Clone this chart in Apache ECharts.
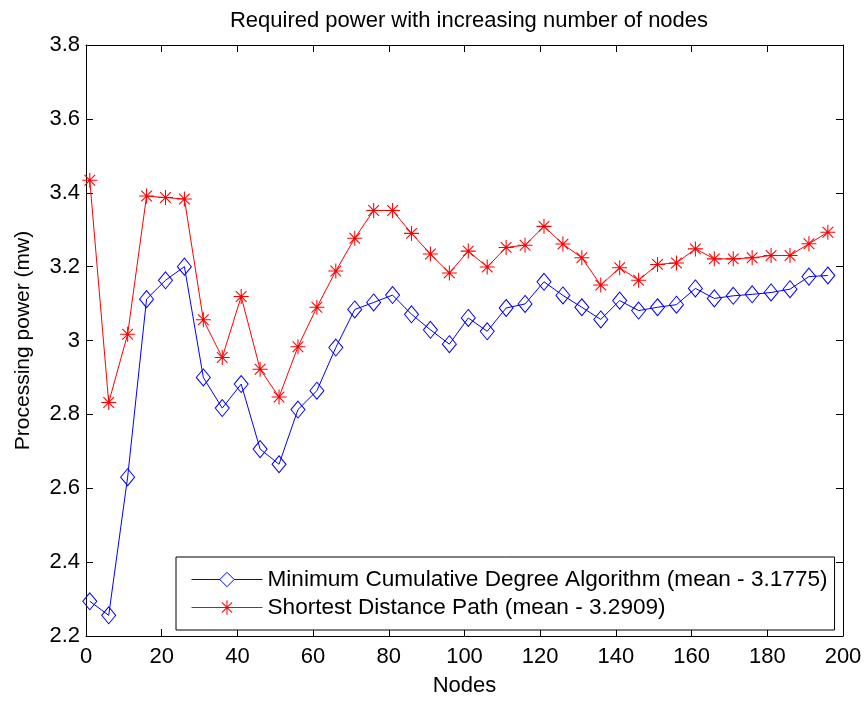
<!DOCTYPE html>
<html>
<head>
<meta charset="utf-8">
<script src="https://cdn.jsdelivr.net/npm/echarts@6/dist/echarts.min.js"></script>
<style>html,body{margin:0;padding:0;background:#fff}#c{width:865px;height:702px}</style>
</head>
<body>
<div id="c"></div>
<script>
const nodes = [1,6,11,16,21,26,31,36,41,46,51,56,61,66,71,76,81,86,91,96,101,106,111,116,121,126,131,136,141,146,151,156,161,166,171,176,181,186,191,196];
const mcdValues = [2.294,2.256,2.630,3.112,3.163,3.200,2.900,2.817,2.882,2.706,2.665,2.813,2.864,2.981,3.084,3.103,3.123,3.071,3.029,2.990,3.061,3.025,3.088,3.099,3.159,3.122,3.090,3.057,3.108,3.081,3.090,3.097,3.141,3.114,3.121,3.125,3.130,3.139,3.173,3.176];
const sdpValues = [3.434,2.832,3.017,3.391,3.387,3.383,3.056,2.954,3.119,2.922,2.847,2.983,3.090,3.188,3.277,3.352,3.352,3.290,3.234,3.183,3.242,3.199,3.252,3.258,3.309,3.261,3.224,3.150,3.197,3.163,3.206,3.210,3.248,3.221,3.221,3.224,3.230,3.230,3.262,3.293];
const seriesNames = ['Minimum Cumulative Degree Algorithm (mean - 3.1775)', 'Shortest Distance Path (mean - 3.2909)'];
const xTicks = {min: 0, max: 200, interval: 20};
const yTicks = {min: 2.2, max: 3.8, interval: 0.2};

const FONT = 'Liberation Sans';
const star = 'path://M-10,-0.7L10,-0.7L10,0.7L-10,0.7Z M-0.7,-10L0.7,-10L0.7,10L-0.7,10Z M-7.6,-6.6L-6.6,-7.6L7.6,6.6L6.6,7.6Z M6.6,-7.6L7.6,-6.6L-6.6,7.6L-7.6,6.6Z';

function axisBase() {
  return {
    axisLine: {show: true, onZero: false, lineStyle: {color: '#000', width: 1}},
    axisTick: {show: true, inside: true, length: 7, lineStyle: {color: '#000', width: 1}},
    splitLine: {show: false}
  };
}

const chart = echarts.init(document.getElementById('c'), null, {renderer: 'canvas'});
chart.setOption({
  animation: false,
  backgroundColor: '#fff',
  textStyle: {fontFamily: FONT},
  title: {
    text: 'Required power with increasing number of nodes',
    left: 464, top: 5, textAlign: 'center',
    textStyle: {fontFamily: FONT, fontSize: 22, fontWeight: 'normal', color: '#000'}
  },
  grid: {left: 86, right: 22, top: 45, bottom: 60, containLabel: false},
  legend: {
    orient: 'vertical',
    left: 176, top: 557,
    padding: [11, 7, 11, 15],
    itemWidth: 71, itemHeight: 18, itemGap: 5,
    borderColor: '#000', borderWidth: 1, backgroundColor: '#fff', borderRadius: 0,
    lineStyle: {width: 1},
    textStyle: {fontFamily: FONT, fontSize: 22.6, color: '#000'},
    data: [
      {name: seriesNames[0], itemStyle: {color: '#fff', borderColor: '#0000ff', borderWidth: 1}},
      {name: seriesNames[1]}
    ]
  },
  xAxis: [
    Object.assign(axisBase(), {
      type: 'value', position: 'bottom', min: xTicks.min, max: xTicks.max, interval: xTicks.interval,
      name: 'Nodes', nameLocation: 'middle', nameGap: 39,
      nameTextStyle: {fontFamily: FONT, fontSize: 22, color: '#000'},
      axisLabel: {fontFamily: FONT, fontSize: 22, color: '#000', margin: 10}
    }),
    Object.assign(axisBase(), {
      type: 'value', position: 'top', min: xTicks.min, max: xTicks.max, interval: xTicks.interval,
      axisLabel: {show: false}
    })
  ],
  yAxis: [
    Object.assign(axisBase(), {
      type: 'value', position: 'left', min: yTicks.min, max: yTicks.max, interval: yTicks.interval,
      name: 'Processing power (mw)', nameLocation: 'middle', nameGap: 52,
      nameTextStyle: {fontFamily: FONT, fontSize: 21, color: '#000'},
      axisLabel: {fontFamily: FONT, fontSize: 22, color: '#000', margin: 6,
        formatter: v => String(Math.round(v * 10) / 10)}
    }),
    Object.assign(axisBase(), {
      type: 'value', position: 'right', min: yTicks.min, max: yTicks.max, interval: yTicks.interval,
      axisLabel: {show: false}
    })
  ],
  series: [
    {
      name: seriesNames[0], type: 'line',
      data: nodes.map((x, i) => [x, mcdValues[i]]),
      symbol: 'diamond', symbolSize: [14, 17],
      lineStyle: {color: '#0000ff', width: 1},
      itemStyle: {color: 'rgba(0,0,0,0)', borderColor: '#0000ff', borderWidth: 1},
      emphasis: {disabled: true}
    },
    {
      name: seriesNames[1], type: 'line',
      data: nodes.map((x, i) => [x, sdpValues[i]]),
      symbol: star, symbolSize: 15,
      lineStyle: {color: '#ff0000', width: 1},
      itemStyle: {color: '#ff0000', borderWidth: 0},
      emphasis: {disabled: true}
    }
  ]
});
</script>
</body>
</html>
